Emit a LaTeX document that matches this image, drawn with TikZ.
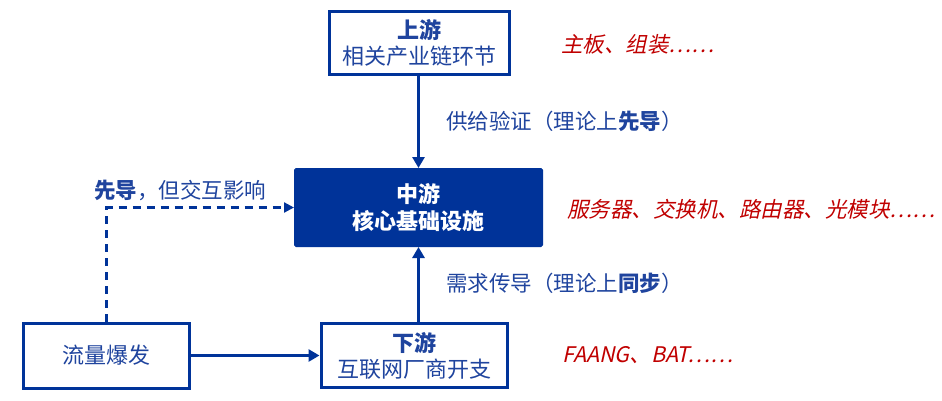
\documentclass[tikz,border=0pt]{standalone}
\usepackage{fontspec}
\setmainfont{Noto Sans CJK SC}
\newfontfamily\cjkit[FakeSlant=0.22]{Noto Sans CJK SC}
\usetikzlibrary{arrows.meta}
\definecolor{mainblue}{HTML}{003399}
\definecolor{txtblue}{HTML}{1F449E}
\definecolor{redtxt}{HTML}{C00000}
\tikzset{
  box/.style={draw=mainblue, line width=3pt, fill=white, text=txtblue, align=center,
    font=\fontsize{22}{26}\selectfont, inner sep=0pt},
  midbox/.style={fill=mainblue, draw=mainblue, line width=1pt, rounded corners=1.5pt, text=white, align=center,
    font=\bfseries\fontsize{22}{27}\selectfont, inner sep=0pt},
  conn/.style={draw=mainblue, line width=3pt, -{Triangle[length=11pt,width=12pt]}},
  dconn/.style={draw=mainblue, line width=2.2pt, dash pattern=on 8pt off 6pt, -{Triangle[length=10pt,width=10pt]}},
  lbl/.style={text=txtblue, anchor=west, inner sep=0pt, font=\fontsize{21.5}{24}\selectfont},
  note/.style={text=redtxt, anchor=west, inner sep=0pt, font=\cjkit\fontsize{21.5}{24}\selectfont},
}
\begin{document}
\begin{tikzpicture}[x=1pt,y=-1pt]
\useasboundingbox (0,0) rectangle (942,400);
\node[box, minimum width=180pt, minimum height=63pt] (up) at (419.5,43) {\textbf{上游}\\相关产业链环节};
\node[midbox, minimum width=248pt, minimum height=78pt] (mid) at (418.5,207.5) {中游\\核心基础设施};
\node[box, minimum width=186pt, minimum height=64pt] (down) at (414,355.5) {\textbf{下游}\\互联网厂商开支};
\node[box, minimum width=166pt, minimum height=65pt] (flow) at (106.5,355.5) {流量爆发};
\coordinate (mtop) at (mid.north);
\draw[conn] (up.south -| mtop) -- (mid.north);
\draw[conn] (mid.south |- down.north) -- (mid.south);
\draw[conn] (flow.east) -- (down.west);
\draw[dconn] (flow.north) |- (mid.west);
\node[lbl] (l1) at (446,121) {供给验证（理论上\textbf{先导}）};
\node[lbl] (l2) at (446,283) {需求传导（理论上\textbf{同步}）};
\node[lbl] (l3) at (94,190) {\textbf{先导}，但交互影响};
\node[note] (n1) at (561,44) {主板、组装……};
\node[note] (n2) at (567,209) {服务器、交换机、路由器、光模块……};
\node[note] (n3) at (562,355) {FAANG、BAT……};
\end{tikzpicture}
\end{document}
